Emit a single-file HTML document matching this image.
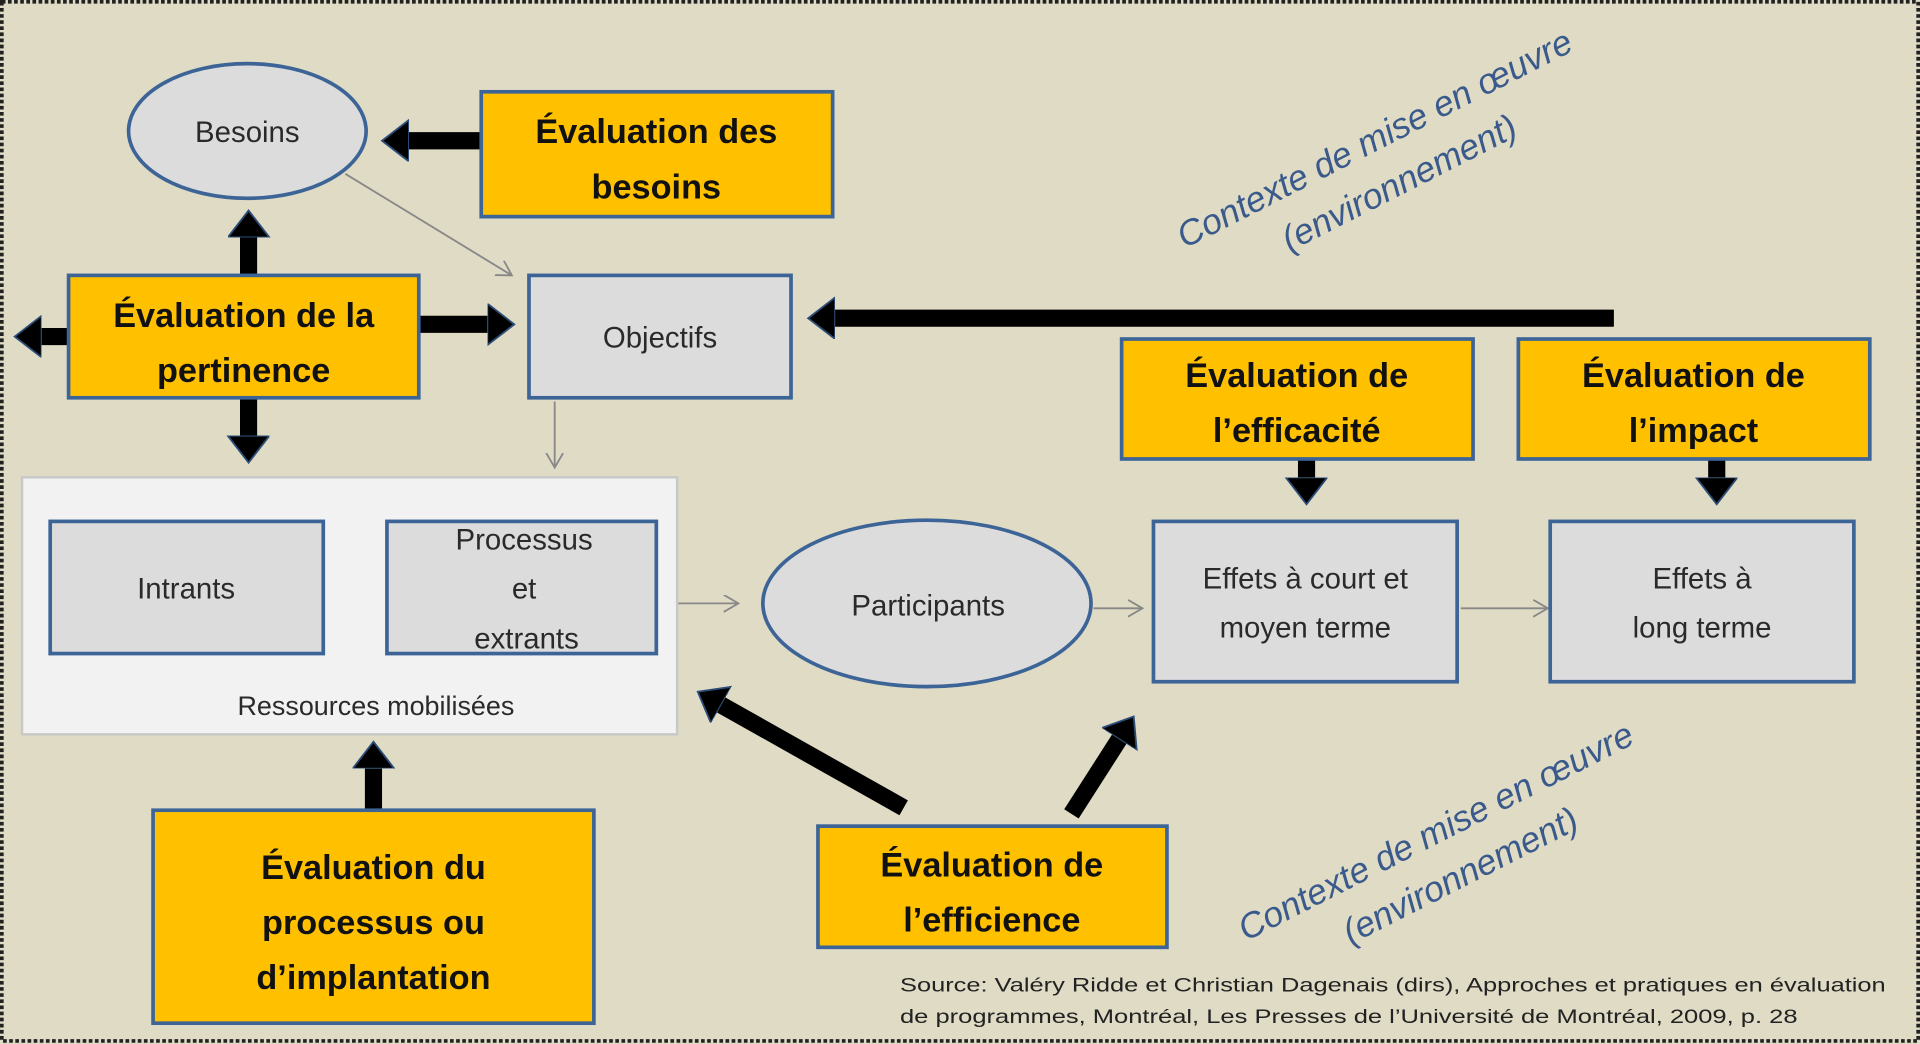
<!DOCTYPE html>
<html><head><meta charset="utf-8"><style>
html,body{margin:0;padding:0;background:#dfdbc5;width:1920px;height:1044px;overflow:hidden}
svg{display:block}
text{font-family:"Liberation Sans",sans-serif}
.b{font-weight:bold;font-size:28px;fill:#111;text-anchor:middle}
.g{font-size:24px;fill:#2a2a2a;text-anchor:middle}
</style></head><body>
<svg width="1920" height="1044" viewBox="0 0 1568 853" preserveAspectRatio="none">
<defs>
<marker id="h" markerUnits="userSpaceOnUse" markerWidth="40" markerHeight="40" refX="0" refY="17" orient="auto">
<path d="M0,0 L22,17 L0,34 z" fill="#000" stroke="#2c4d78" stroke-width="1.5"/>
</marker>
<marker id="t" markerUnits="userSpaceOnUse" markerWidth="20" markerHeight="20" refX="12" refY="7" orient="auto">
<path d="M0,0 L12,7 L0,14" fill="none" stroke="#888" stroke-width="1.5"/>
</marker>
</defs>
<rect x="0" y="0" width="1568" height="853" fill="#dfdbc5"/>
<rect x="1.5" y="1.5" width="1565" height="849" fill="none" stroke="#222" stroke-width="3" stroke-dasharray="3 2"/>

<line x1="282" y1="142" x2="418" y2="225" stroke="#888" stroke-width="1.5" marker-end="url(#t)"/>
<line x1="453" y1="328" x2="453" y2="382" stroke="#888" stroke-width="1.5" marker-end="url(#t)"/>
<line x1="538" y1="493" x2="603" y2="493" stroke="#888" stroke-width="1.5" marker-end="url(#t)"/>
<line x1="893" y1="497" x2="933" y2="497" stroke="#888" stroke-width="1.5" marker-end="url(#t)"/>
<line x1="1193" y1="497" x2="1264" y2="497" stroke="#888" stroke-width="1.5" marker-end="url(#t)"/>

<g stroke="#000" stroke-width="14" marker-end="url(#h)">
<line x1="393" y1="115" x2="334" y2="115"/>
<line x1="203" y1="225" x2="203" y2="194"/>
<line x1="203" y1="325" x2="203" y2="356"/>
<line x1="56" y1="275" x2="34" y2="275"/>
<line x1="342" y1="265" x2="398" y2="265"/>
<line x1="1318" y1="260" x2="682" y2="260"/>
<line x1="1067" y1="375" x2="1067" y2="390"/>
<line x1="1402" y1="375" x2="1402" y2="390"/>
<line x1="305" y1="662" x2="305" y2="628"/>
<line x1="738" y1="660" x2="589" y2="576"/>
<line x1="875" y1="665" x2="914" y2="604"/>
</g>

<ellipse cx="202" cy="107" rx="97" ry="55" fill="#dcdcdc" stroke="#3d6496" stroke-width="3"/>
<text class="g" x="202" y="116">Besoins</text>

<rect x="393" y="75" width="287" height="102" fill="#ffc000" stroke="#3d6496" stroke-width="3"/>
<text class="b" x="536" y="117">Évaluation des</text>
<text class="b" x="536" y="162">besoins</text>

<rect x="56" y="225" width="286" height="100" fill="#ffc000" stroke="#3d6496" stroke-width="3"/>
<text class="b" x="199" y="267">Évaluation de la</text>
<text class="b" x="199" y="312">pertinence</text>

<rect x="432" y="225" width="214" height="100" fill="#dcdcdc" stroke="#3d6496" stroke-width="3"/>
<text class="g" x="539" y="284">Objectifs</text>

<rect x="18" y="390" width="535" height="210" fill="#f2f2f2" stroke="#c8c8c8" stroke-width="2"/>
<rect x="41" y="426" width="223" height="108" fill="#dcdcdc" stroke="#3d6496" stroke-width="3"/>
<text class="g" x="152" y="489">Intrants</text>
<rect x="316" y="426" width="220" height="108" fill="#dcdcdc" stroke="#3d6496" stroke-width="3"/>
<text class="g" x="428" y="449">Processus</text>
<text class="g" x="428" y="489">et</text>
<text class="g" x="430" y="530">extrants</text>
<text class="g" x="307" y="584" style="font-size:22px">Ressources mobilisées</text>

<ellipse cx="757" cy="493" rx="134" ry="68" fill="#dcdcdc" stroke="#3d6496" stroke-width="3"/>
<text class="g" x="758" y="503">Participants</text>

<rect x="942" y="426" width="248" height="131" fill="#dcdcdc" stroke="#3d6496" stroke-width="3"/>
<text class="g" x="1066" y="481">Effets à court et</text>
<text class="g" x="1066" y="521">moyen terme</text>

<rect x="1266" y="426" width="248" height="131" fill="#dcdcdc" stroke="#3d6496" stroke-width="3"/>
<text class="g" x="1390" y="481">Effets à</text>
<text class="g" x="1390" y="521">long terme</text>

<rect x="916" y="277" width="287" height="98" fill="#ffc000" stroke="#3d6496" stroke-width="3"/>
<text class="b" x="1059" y="316">Évaluation de</text>
<text class="b" x="1059" y="361">l’efficacité</text>

<rect x="1240" y="277" width="287" height="98" fill="#ffc000" stroke="#3d6496" stroke-width="3"/>
<text class="b" x="1383" y="316">Évaluation de</text>
<text class="b" x="1383" y="361">l’impact</text>

<rect x="125" y="662" width="360" height="174" fill="#ffc000" stroke="#3d6496" stroke-width="3"/>
<text class="b" x="305" y="718">Évaluation du</text>
<text class="b" x="305" y="763">processus ou</text>
<text class="b" x="305" y="808">d’implantation</text>

<rect x="668" y="675" width="285" height="99" fill="#ffc000" stroke="#3d6496" stroke-width="3"/>
<text class="b" x="810" y="716">Évaluation de</text>
<text class="b" x="810" y="761">l’efficience</text>

<g fill="#3a5a8c" font-style="italic" font-size="29" text-anchor="middle">
<text transform="translate(1127,122) rotate(-27)">Contexte de mise en œuvre</text>
<text transform="translate(1147,158) rotate(-27)">(environnement)</text>
<text transform="translate(1177,688) rotate(-27)">Contexte de mise en œuvre</text>
<text transform="translate(1197,724) rotate(-27)">(environnement)</text>
</g>

<g fill="#222" font-size="16">
<text x="735" y="810" textLength="805" lengthAdjust="spacingAndGlyphs">Source:  Valéry Ridde et Christian  Dagenais (dirs), Approches  et pratiques  en évaluation</text>
<text x="735" y="836" textLength="733" lengthAdjust="spacingAndGlyphs">de programmes,  Montréal, Les Presses de l’Université  de Montréal, 2009, p. 28</text>
</g>
</svg>
</body></html>
